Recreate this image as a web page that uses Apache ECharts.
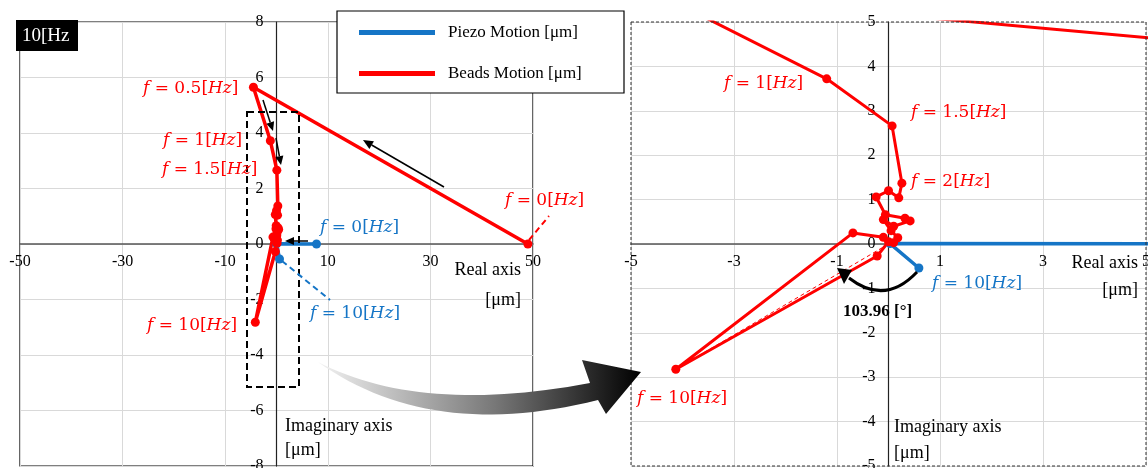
<!DOCTYPE html>
<html>
<head>
<meta charset="utf-8">
<script src="https://cdn.jsdelivr.net/npm/echarts@6/dist/echarts.min.js"></script>
<style>
  html, body { margin: 0; padding: 0; background: #fff; }
  #chart { width: 1148px; height: 468px; }
</style>
</head>
<body>
<div id="chart"></div>
<script>
// Piezo phasor (real / imaginary part, um), f = 0 ... 10 Hz
var piezoRe = [7.8, 0.03, 0.59];
var piezoIm = [0, 0.01, -0.54];

// Beads phasor over the same sweep
var beadsRe = [49, -4.5, -1.2, 0.07, 0.26, 0.2, 0.0, -0.24, -0.06, 0.32, 0.42, 0.1, -0.1, 0.05, 0.18, 0.1, -0.1, -0.69, -4.13, -0.22, 0.0];
var beadsIm = [0, 5.65, 3.72, 2.66, 1.37, 1.04, 1.2, 1.06, 0.66, 0.58, 0.52, 0.4, 0.55, 0.3, 0.14, 0.03, 0.15, 0.25, -2.82, -0.27, 0.05];

// phase reference line : origin -> beads at f = 10 Hz
var phaseRe = [0, -4.13];
var phaseIm = [0, -2.82];

// axis ranges [min, max, step] for the full view and the zoomed view
var fullX = [-50, 50, 20];
var fullY = [-8, 8, 2];
var zoomX = [-5, 5, 2];
var zoomY = [-5, 5, 1];

var BLUE = '#1575c6';
var RED = '#ff0000';
var SERIF = 'Liberation Serif';
var MATH = 'DejaVu Serif';

// plot boxes (pixels)
var boxL = { left: 20, top: 22, width: 513, height: 444 };
var boxR = { left: 631, top: 22, width: 515, height: 444 };

function zip(a, b) {
  return a.map(function (v, i) { return [v, b[i]]; });
}

// axes cross at zero: shift the bottom / left axis to the zero position
function xAxisOf(r, gi, box) {
  var off = -box.height * (0 - r[0]) / (r[1] - r[0]);
  return {
    type: 'value', gridIndex: gi, min: r[0], max: r[1], interval: r[2],
    position: 'bottom', offset: off,
    axisLine: { onZero: false, lineStyle: { color: '#555', width: 1.5 } },
    axisTick: { show: false },
    axisLabel: { color: '#000', fontFamily: SERIF, fontSize: 16, margin: 10 },
    splitLine: { lineStyle: { color: '#d9d9d9', width: 1 } }
  };
}
function yAxisOf(r, gi, box, xr) {
  var off = -box.width * (0 - xr[0]) / (xr[1] - xr[0]);
  return {
    type: 'value', gridIndex: gi, min: r[0], max: r[1], interval: r[2],
    position: 'left', offset: off,
    axisLine: { onZero: false, lineStyle: { color: '#222', width: 1.2 } },
    axisTick: { show: false },
    axisLabel: { color: '#000', fontFamily: SERIF, fontSize: 16, margin: 13 },
    splitLine: { lineStyle: { color: '#d9d9d9', width: 1 } }
  };
}

function lineSeries(name, re, im, color, gi, width) {
  return {
    name: name, type: 'line', xAxisIndex: gi, yAxisIndex: gi,
    data: zip(re, im), symbol: 'circle', symbolSize: 9,
    lineStyle: { color: color, width: width },
    itemStyle: { color: color },
    z: 3
  };
}

// small black arrow (line + triangle head)
function arrow(x1, y1, x2, y2, w, head) {
  var dx = x2 - x1, dy = y2 - y1, L = Math.sqrt(dx * dx + dy * dy);
  var ux = dx / L, uy = dy / L;
  var bx = x2 - ux * head, by = y2 - uy * head;
  var px = -uy * head * 0.45, py = ux * head * 0.45;
  return [
    { type: 'line', z: 20, shape: { x1: x1, y1: y1, x2: bx, y2: by }, style: { stroke: '#000', lineWidth: w } },
    { type: 'polygon', z: 20, shape: { points: [[x2, y2], [bx + px, by + py], [bx - px, by - py]] }, style: { fill: '#000' } }
  ];
}

// "f = n[Hz]" label
function fLabel(x, y, num, color) {
  return {
    type: 'text', x: x, y: y, z: 20,
    style: {
      text: '{i|f} = ' + num + '[{i|Hz}]',
      fill: color, fontFamily: MATH, fontSize: 17, verticalAlign: 'middle',
      rich: { i: { fontStyle: 'italic', fontFamily: MATH, fontSize: 17, fill: color } }
    }
  };
}

function plainText(x, y, s, align, extra) {
  var st = { text: s, fill: '#000', fontFamily: SERIF, fontSize: 18, align: align, verticalAlign: 'middle' };
  for (var k in extra) st[k] = extra[k];
  return { type: 'text', x: x, y: y, z: 20, style: st };
}

function quad(p0, c, p1, n) {
  var pts = [];
  for (var i = 0; i <= n; i++) {
    var t = i / n, a = (1 - t) * (1 - t), b = 2 * t * (1 - t), d = t * t;
    pts.push([a * p0[0] + b * c[0] + d * p1[0], a * p0[1] + b * c[1] + d * p1[1]]);
  }
  return pts;
}

var swoosh = quad([318, 362], [420, 415], [590, 383], 30)
  .concat([[582, 360], [641, 372], [606, 414]])
  .concat(quad([598, 400], [430, 442], [318, 362], 30));

var chart = echarts.init(document.getElementById('chart'));

var graphics = [];
// title tab
graphics.push({ type: 'rect', z: 25, shape: { x: 16, y: 20, width: 62, height: 31 }, style: { fill: '#000' } });
graphics.push({ type: 'text', x: 22, y: 36, z: 26, style: { text: '10[Hz', fill: '#fff', fontFamily: SERIF, fontSize: 19, verticalAlign: 'middle' } });
// legend frame
graphics.push({ type: 'rect', z: 25, shape: { x: 337, y: 11, width: 287, height: 82 }, style: { fill: '#fff', stroke: '#000', lineWidth: 1.2 } });
// zoom window on the left plot and dashed frame of the right plot
graphics.push({ type: 'rect', z: 15, shape: { x: 247, y: 112, width: 52, height: 275 }, style: { fill: null, stroke: '#000', lineWidth: 2, lineDash: [7, 4] } });
graphics.push({ type: 'rect', z: 15, shape: { x: 631, y: 22, width: 515, height: 444 }, style: { fill: null, stroke: '#333', lineWidth: 1, lineDash: [3, 2] } });
// big swoosh arrow
graphics.push({
  type: 'polygon', z: 18, shape: { points: swoosh },
  style: {
    fill: new echarts.graphic.LinearGradient(0, 0, 1, 0, [
      { offset: 0, color: '#f2f2f2' }, { offset: 0.55, color: '#777' }, { offset: 1, color: '#000' }
    ])
  }
});
// direction arrows on the left plot
graphics = graphics.concat(arrow(444, 187, 363, 140, 1.5, 10));
graphics = graphics.concat(arrow(263, 100, 273, 131, 1.5, 9));
graphics = graphics.concat(arrow(276, 138, 281, 165, 1.5, 9));
graphics = graphics.concat(arrow(308, 241, 285, 241, 1.5, 9));
// label leaders
graphics.push({ type: 'line', z: 20, shape: { x1: 282, y1: 261, x2: 330, y2: 300 }, style: { stroke: BLUE, lineWidth: 2, lineDash: [6, 4] } });
graphics.push({ type: 'line', z: 20, shape: { x1: 529, y1: 240, x2: 549, y2: 216 }, style: { stroke: RED, lineWidth: 2, lineDash: [6, 4] } });
// phase angle arc
graphics.push({ type: 'bezierCurve', z: 20, shape: { x1: 917, y1: 272, cpx1: 885, cpy1: 306, x2: 849, y2: 278 }, style: { stroke: '#000', lineWidth: 3, fill: null } });
graphics.push({ type: 'polygon', z: 20, shape: { points: [[837, 268], [852, 270], [844, 284]] }, style: { fill: '#000' } });
graphics.push(plainText(843, 312, '103.96 [°]', 'left', { fontWeight: 'bold', fontSize: 17 }));

// frequency labels
graphics.push(fLabel(143, 89, '0.5', RED));
graphics.push(fLabel(163, 141, '1', RED));
graphics.push(fLabel(162, 170, '1.5', RED));
graphics.push(fLabel(147, 326, '10', RED));
graphics.push(fLabel(505, 201, '0', RED));
graphics.push(fLabel(320, 228, '0', BLUE));
graphics.push(fLabel(310, 314, '10', BLUE));
graphics.push(fLabel(724, 84, '1', RED));
graphics.push(fLabel(911, 113, '1.5', RED));
graphics.push(fLabel(911, 182, '2', RED));
graphics.push(fLabel(637, 399, '10', RED));
graphics.push(fLabel(932, 284, '10', BLUE));

// axis names
graphics.push(plainText(521, 270, 'Real axis', 'right'));
graphics.push(plainText(521, 300, '[\u03bcm]', 'right'));
graphics.push(plainText(285, 426, 'Imaginary axis', 'left'));
graphics.push(plainText(285, 450, '[\u03bcm]', 'left'));
graphics.push(plainText(1138, 263, 'Real axis', 'right'));
graphics.push(plainText(1138, 290, '[\u03bcm]', 'right'));
graphics.push(plainText(894, 427, 'Imaginary axis', 'left'));
graphics.push(plainText(894, 453, '[\u03bcm]', 'left'));

chart.setOption({
  animation: false,
  grid: [
    { left: boxL.left, top: boxL.top, width: boxL.width, height: boxL.height, show: true, borderColor: '#000', borderWidth: 1.2, containLabel: false, outerBoundsMode: 'none' },
    { left: boxR.left, top: boxR.top, width: boxR.width, height: boxR.height, containLabel: false, outerBoundsMode: 'none' }
  ],
  xAxis: [xAxisOf(fullX, 0, boxL), xAxisOf(zoomX, 1, boxR)],
  yAxis: [yAxisOf(fullY, 0, boxL, fullX), yAxisOf(zoomY, 1, boxR, zoomX)],
  legend: {
    data: ['Piezo Motion [\u03bcm]', 'Beads Motion [\u03bcm]'],
    orient: 'vertical', left: 359, top: 24, padding: 0, z: 30,
    icon: 'rect', itemWidth: 76, itemHeight: 5, itemGap: 24,
    textStyle: { color: '#000', fontFamily: SERIF, fontSize: 17, padding: [0, 0, 0, 8] }
  },
  graphic: graphics,
  series: [
    lineSeries('Piezo Motion [\u03bcm]', piezoRe, piezoIm, BLUE, 0, 3.5),
    lineSeries('Beads Motion [\u03bcm]', beadsRe, beadsIm, RED, 0, 3.5),
    lineSeries('Piezo Motion [\u03bcm]', piezoRe, piezoIm, BLUE, 1, 3.5),
    lineSeries('Beads Motion [\u03bcm]', beadsRe, beadsIm, RED, 1, 3),
    {
      name: 'phase', type: 'line', xAxisIndex: 1, yAxisIndex: 1,
      data: zip(phaseRe, phaseIm), symbol: 'none',
      lineStyle: { color: RED, width: 1, type: [4, 3] }, z: 2
    }
  ]
});
</script>
</body>
</html>
